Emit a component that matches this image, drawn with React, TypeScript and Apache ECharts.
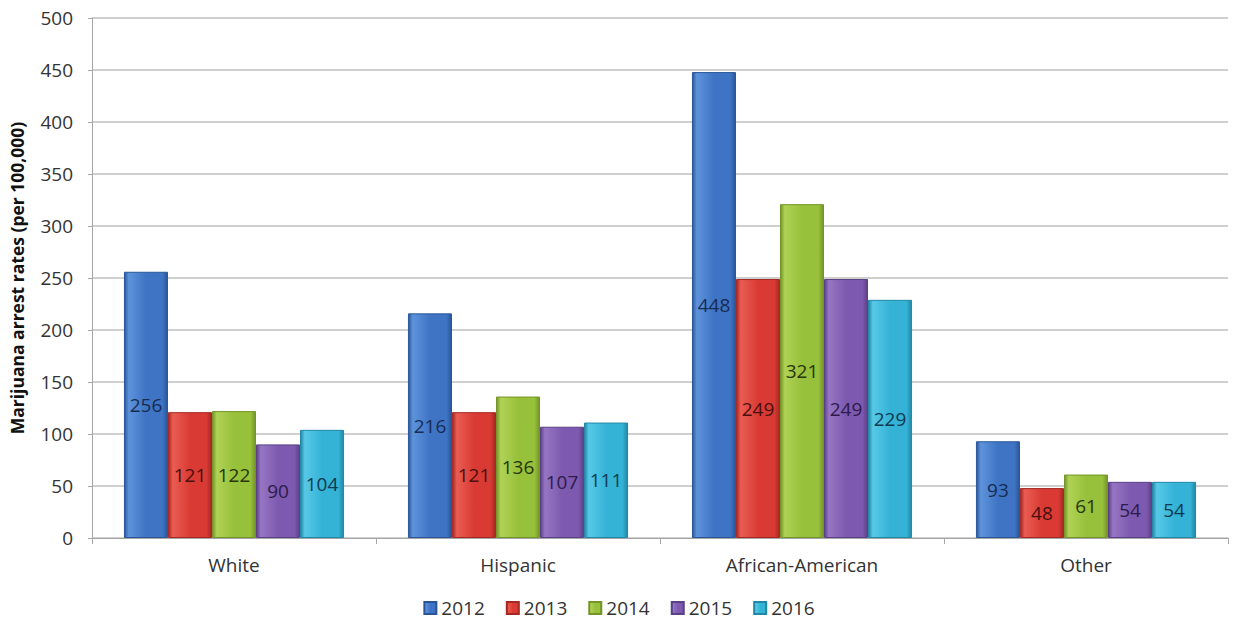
import React, { useEffect, useRef } from "react";
import * as echarts from "echarts";

const categories = ["White", "Hispanic", "African-American", "Other"];
const years = ["2012", "2013", "2014", "2015", "2016"];
const v2012 = [256, 216, 448, 93];
const v2013 = [121, 121, 249, 48];
const v2014 = [122, 136, 321, 61];
const v2015 = [90, 107, 249, 54];
const v2016 = [104, 111, 229, 54];
const seriesValues = [v2012, v2013, v2014, v2015, v2016];

const palette = [
  { base: "#3F74C5", light: "#5E93DC", dark: "#2A5698", label: "#172c52" },
  { base: "#D93B34", light: "#EA5C52", dark: "#A52823", label: "#4a0f0f" },
  { base: "#98C13B", light: "#B0D256", dark: "#739428", label: "#26360a" },
  { base: "#7D5AAF", light: "#9676C4", dark: "#5B4086", label: "#2d1b4c" },
  { base: "#35B3D6", light: "#58C9E7", dark: "#2187A6", label: "#0e3a52" },
];

const FONT = "'Open Sans', 'Noto Sans', sans-serif";

export default function App() {
  const ref = useRef<HTMLDivElement>(null);
  useEffect(() => {
    document.body.style.margin = "0";
    if (!ref.current) return;
    const chart = echarts.init(ref.current, null, { renderer: "svg" });
    chart.setOption({
      animation: false,
      textStyle: { fontFamily: FONT },
      grid: { left: 92, right: 10, top: 18, bottom: 83, containLabel: false },
      legend: {
        bottom: 3,
        left: "center",
        padding: 0,
        itemWidth: 12,
        itemHeight: 12,
        itemGap: 21,
        icon: "rect",
        textStyle: { fontSize: 19, lineHeight: 20, color: "#333", fontFamily: FONT },
        data: years,
      },
      xAxis: {
        type: "category",
        data: categories,
        axisLine: { lineStyle: { color: "#A6A6A6" } },
        axisTick: { show: true, length: 6, lineStyle: { color: "#A6A6A6" } },
        axisLabel: { fontSize: 19, color: "#333", margin: 17, fontFamily: FONT },
      },
      yAxis: {
        type: "value",
        min: 0,
        max: 500,
        interval: 50,
        name: "Marijuana arrest rates (per 100,000)",
        nameLocation: "middle",
        nameGap: 66,
        nameTextStyle: { fontSize: 17.5, fontWeight: "bold", color: "#111", fontFamily: FONT },
        axisLine: { show: true, lineStyle: { color: "#A6A6A6" } },
        axisTick: { show: true, length: 4, lineStyle: { color: "#A6A6A6" } },
        axisLabel: { fontSize: 19, color: "#333", margin: 19, fontFamily: FONT },
        splitLine: { lineStyle: { color: "#BFBFBF", width: 1.5 } },
      },
      series: years.map((y, i) => ({
        name: y,
        type: "bar",
        data: seriesValues[i],
        barGap: "0%",
        barCategoryGap: "22.5%",
        itemStyle: {
          color: new echarts.graphic.LinearGradient(0, 0, 1, 0, [
            { offset: 0, color: palette[i].dark },
            { offset: 0.1, color: palette[i].light },
            { offset: 0.5, color: palette[i].base },
            { offset: 0.88, color: palette[i].base },
            { offset: 1, color: palette[i].dark },
          ]),
          borderColor: palette[i].dark,
          borderWidth: 1,
        },
        label: {
          show: true,
          position: "inside",
          fontSize: 19,
          color: palette[i].label,
          fontFamily: FONT,
        },
      })),
    });
    return () => chart.dispose();
  }, []);
  return <div ref={ref} style={{ width: 1238, height: 621 }} />;
}
